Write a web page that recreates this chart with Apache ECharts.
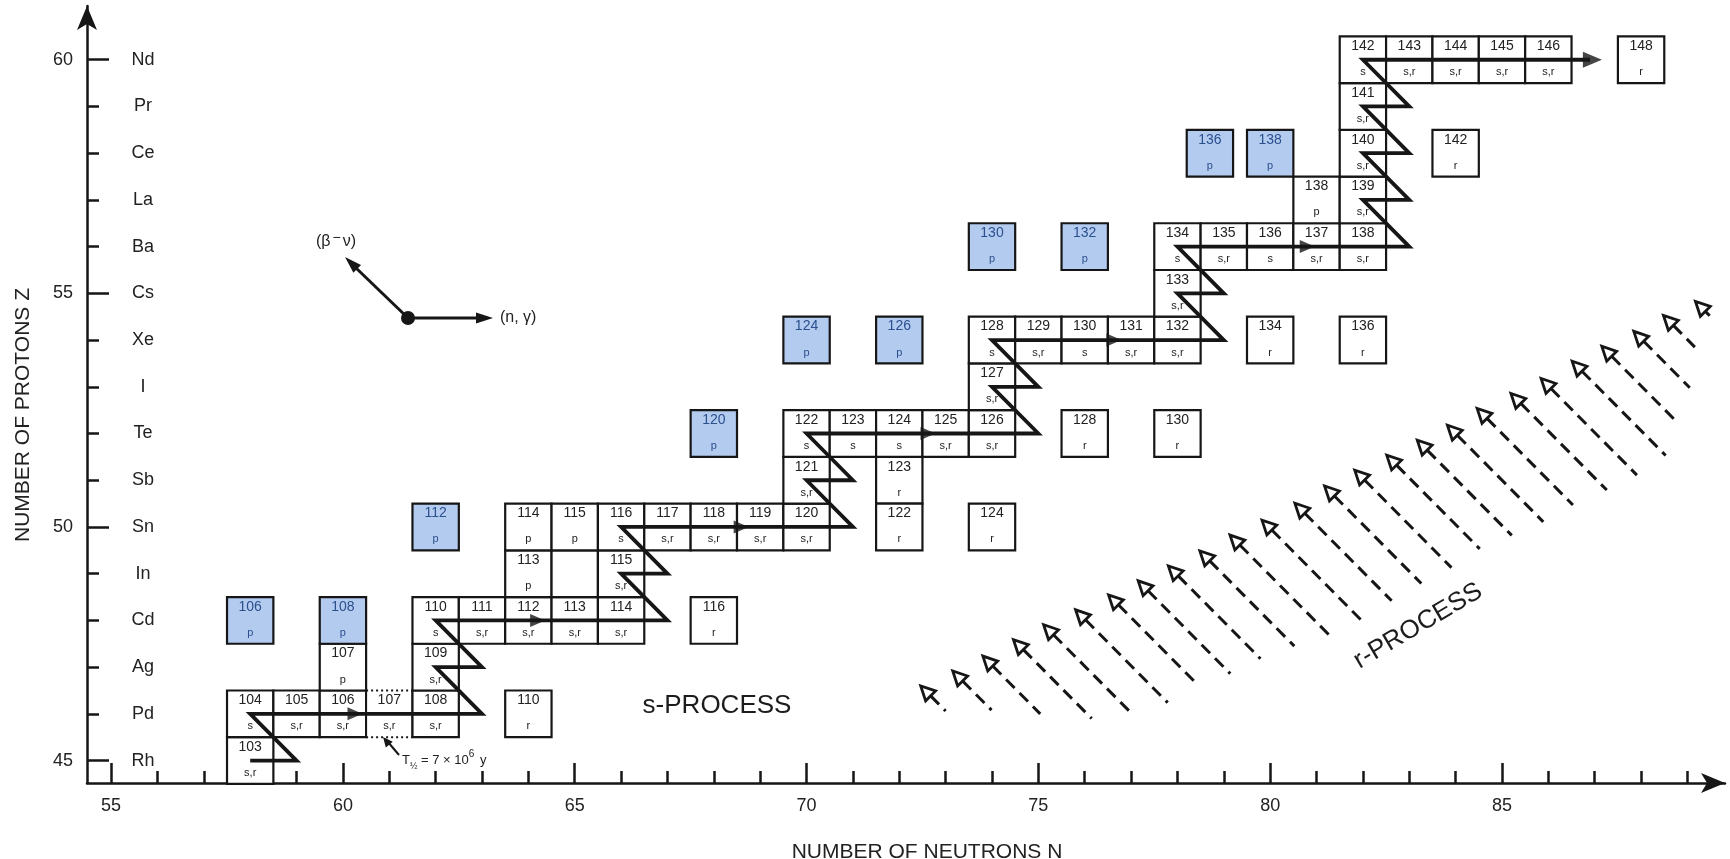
<!DOCTYPE html>
<html>
<head>
<meta charset="utf-8">
<title>s-process path through Rh - Nd</title>
<script src="https://cdn.jsdelivr.net/npm/echarts@6/dist/echarts.min.js"></script>
<style>
  html, body { margin: 0; padding: 0; background: #fff; }
  #chart { width: 1730px; height: 859px; }
</style>
</head>
<body>
<div id="chart"></div>
<script>
// axis labels
const elementZ = [45, 46, 47, 48, 49, 50, 51, 52, 53, 54, 55, 56, 57, 58, 59, 60];
const elements = ['Rh', 'Pd', 'Ag', 'Cd', 'In', 'Sn', 'Sb', 'Te', 'I', 'Xe', 'Cs', 'Ba', 'La', 'Ce', 'Pr', 'Nd'];
const zLabels = [45, 50, 55, 60];
const nLabels = [55, 60, 65, 70, 75, 80, 85];
const nTicks = [55, 56, 57, 58, 59, 60, 61, 62, 63, 64, 65, 66, 67, 68, 69, 70, 71, 72,
  73, 74, 75, 76, 77, 78, 79, 80, 81, 82, 83, 84, 85, 86, 87, 88, 89];

// nuclides: [N, Z, mass number, origin]
const chainCells = [
  [58, 45, '103', 's,r'],
  [58, 46, '104', 's'], [59, 46, '105', 's,r'], [60, 46, '106', 's,r'], [61, 46, '107', 's,r'], [62, 46, '108', 's,r'],
  [60, 47, '107', 'p'], [62, 47, '109', 's,r'],
  [62, 48, '110', 's'], [63, 48, '111', 's,r'], [64, 48, '112', 's,r'], [65, 48, '113', 's,r'], [66, 48, '114', 's,r'],
  [64, 49, '113', 'p'], [65, 49, '', ''], [66, 49, '115', 's,r'],
  [64, 50, '114', 'p'], [65, 50, '115', 'p'], [66, 50, '116', 's'], [67, 50, '117', 's,r'], [68, 50, '118', 's,r'],
  [69, 50, '119', 's,r'], [70, 50, '120', 's,r'],
  [70, 51, '121', 's,r'], [72, 51, '123', 'r'], [72, 50, '122', 'r'],
  [70, 52, '122', 's'], [71, 52, '123', 's'], [72, 52, '124', 's'], [73, 52, '125', 's,r'], [74, 52, '126', 's,r'],
  [74, 53, '127', 's,r'],
  [74, 54, '128', 's'], [75, 54, '129', 's,r'], [76, 54, '130', 's'], [77, 54, '131', 's,r'], [78, 54, '132', 's,r'],
  [78, 55, '133', 's,r'],
  [78, 56, '134', 's'], [79, 56, '135', 's,r'], [80, 56, '136', 's'], [81, 56, '137', 's,r'], [82, 56, '138', 's,r'],
  [81, 57, '138', 'p'], [82, 57, '139', 's,r'],
  [82, 58, '140', 's,r'],
  [82, 59, '141', 's,r'],
  [82, 60, '142', 's'], [83, 60, '143', 's,r'], [84, 60, '144', 's,r'], [85, 60, '145', 's,r'], [86, 60, '146', 's,r']
];
const pOnlyCells = [
  [58, 48, '106', 'p'], [60, 48, '108', 'p'], [62, 50, '112', 'p'], [68, 52, '120', 'p'], [70, 54, '124', 'p'],
  [72, 54, '126', 'p'], [74, 56, '130', 'p'], [76, 56, '132', 'p'], [78.7, 58, '136', 'p'], [80, 58, '138', 'p']
];
const rOnlyCells = [
  [64, 46, '110', 'r'], [68, 48, '116', 'r'], [74, 50, '124', 'r'], [76, 52, '128', 'r'], [78, 52, '130', 'r'],
  [80, 54, '134', 'r'], [82, 54, '136', 'r'], [84, 58, '142', 'r'], [88, 60, '148', 'r']
];
// 107Pd, T1/2 = 7e6 y: drawn with dotted top and bottom
const longLived = [[61, 46]];

// s-process path (n,gamma) steps and beta decays
const pathVertices = [
  [58, 45], [59, 45], [58, 46], [63, 46], [62, 47], [63, 47], [62, 48], [67, 48], [66, 49], [67, 49],
  [66, 50], [71, 50], [70, 51], [71, 51], [70, 52], [75, 52], [74, 53], [75, 53], [74, 54], [79, 54],
  [78, 55], [79, 55], [78, 56], [83, 56], [82, 57], [83, 57], [82, 58], [83, 58], [82, 59], [83, 59],
  [82, 60], [86.9, 60]
];
const pathArrowN = [60.26, 64.2, 68.59, 72.62, 76.63, 80.8];
const pathArrowZ = [46, 48, 50, 52, 54, 56];
const pathEnd = [86.95, 60];

// r-process decay arrows: head position and dashed tail length (in N)
const rArrowN = [72.6, 73.29, 73.94, 74.6, 75.25, 75.94, 76.65, 77.29, 77.94, 78.62, 79.27, 79.96, 80.67,
  81.31, 81.96, 82.65, 83.31, 83.96, 84.6, 85.33, 85.98, 86.65, 87.29, 87.98, 88.62, 89.31];
const rArrowZ = [46.46, 46.78, 47.1, 47.45, 47.77, 48.09, 48.41, 48.71, 49.03, 49.35, 49.69, 50.01, 50.37,
  50.74, 51.08, 51.4, 51.72, 52.04, 52.4, 52.72, 53.04, 53.41, 53.73, 54.05, 54.39, 54.69];
const rArrowLen = [0.4, 0.7, 1.1, 1.55, 1.8, 1.85, 1.8, 1.85, 1.85, 1.9, 2.0, 2.0, 1.95,
  1.95, 1.95, 1.87, 1.9, 1.93, 1.93, 1.93, 1.93, 1.88, 1.46, 1.07, 0.54, 0.17];

const INK = '#161616';
const FONT = '"Liberation Sans", Arial, Helvetica, sans-serif';

function isLongLived(cell) {
  return longLived.some(d => d[0] === cell[0] && d[1] === cell[1]);
}

function edge(x1, y1, x2, y2, dash) {
  return {
    type: 'line',
    shape: { x1, y1, x2, y2 },
    style: { stroke: INK, lineWidth: 2, lineDash: dash || null }
  };
}

function cellRenderer(cells, fill, textColor) {
  return function (params, api) {
    const cell = cells[params.dataIndex];
    const c = api.coord([cell[0], cell[1]]);
    const s = api.size([1, 1]);
    const x0 = c[0] - s[0] / 2, y0 = c[1] - s[1] / 2;
    const children = [];
    if (isLongLived(cell)) {
      children.push({ type: 'rect', shape: { x: x0, y: y0, width: s[0], height: s[1] }, style: { fill } });
      children.push(edge(x0, y0, x0, y0 + s[1]));
      children.push(edge(x0 + s[0], y0, x0 + s[0], y0 + s[1]));
      children.push(edge(x0, y0, x0 + s[0], y0, [2, 3]));
      children.push(edge(x0, y0 + s[1], x0 + s[0], y0 + s[1], [2, 3]));
    } else {
      children.push({
        type: 'rect',
        shape: { x: x0, y: y0, width: s[0], height: s[1] },
        style: { fill, stroke: INK, lineWidth: 2.2 }
      });
    }
    children.push({
      type: 'text',
      style: {
        text: cell[2], x: c[0], y: c[1] - 13.5,
        align: 'center', verticalAlign: 'middle', textAlign: 'center', textVerticalAlign: 'middle',
        fontSize: 14, fontFamily: FONT, fill: textColor
      }
    });
    children.push({
      type: 'text',
      style: {
        text: cell[3], x: c[0], y: c[1] + 12.5,
        align: 'center', verticalAlign: 'middle', textAlign: 'center', textVerticalAlign: 'middle',
        fontSize: 11, fontFamily: FONT, fill: textColor
      }
    });
    return { type: 'group', children };
  };
}

function renderRArrow(params, api) {
  const i = params.dataIndex;
  const n = rArrowN[i], z = rArrowZ[i], len = rArrowLen[i];
  const p = api.coord([n, z]);
  const u = api.coord([n + 1, z - 1]);
  const q = api.coord([n + len, z - len]);
  let dx = u[0] - p[0], dy = u[1] - p[1];
  const d = Math.sqrt(dx * dx + dy * dy);
  dx /= d; dy /= d;
  const tip = [p[0] - dx * 9, p[1] - dy * 9];
  const base = [p[0] + dx * 5, p[1] + dy * 5];
  const px = -dy * 7, py = dx * 7;
  return {
    type: 'group',
    children: [
      {
        type: 'polyline',
        shape: { points: [base, q] },
        style: { stroke: INK, lineWidth: 3, lineDash: [12, 7] }
      },
      {
        type: 'polygon',
        shape: { points: [tip, [base[0] + px, base[1] + py], [base[0] - px, base[1] - py]] },
        style: { fill: '#fff', stroke: INK, lineWidth: 2.8, lineJoin: 'miter' }
      }
    ]
  };
}

function arrowHead(tip, dir, len, half) {
  const ux = dir[0], uy = dir[1];
  const bx = tip[0] - ux * len, by = tip[1] - uy * len;
  return {
    type: 'polygon',
    shape: { points: [tip, [bx - uy * half, by + ux * half], [bx + uy * half, by - ux * half]] },
    style: { fill: INK }
  };
}

const chart = echarts.init(document.getElementById('chart'));

const xRange = { min: 54.48, max: 89.81 };
const yRange = { min: 44.52, max: 61.15 };
const axisLineStyle = { color: INK, width: 2.5 };

const option = {
  animation: false,
  backgroundColor: '#fff',
  grid: { left: 87, top: 6, width: 1638, height: 777, containLabel: false },
  xAxis: [
    {
      type: 'value', ...xRange,
      axisLine: { show: true, onZero: false, lineStyle: axisLineStyle, symbol: ['none', 'arrow'], symbolSize: [15, 24] },
      axisTick: { show: true, inside: true, length: 12, customValues: nTicks, lineStyle: axisLineStyle },
      axisLabel: { show: false },
      splitLine: { show: false }
    },
    {
      type: 'value', position: 'bottom', ...xRange,
      axisLine: { show: false, onZero: false },
      axisTick: { show: true, inside: true, length: 20, customValues: nLabels, lineStyle: axisLineStyle },
      axisLabel: { customValues: nLabels, margin: 14, fontSize: 18, fontFamily: FONT, color: '#222' },
      splitLine: { show: false }
    }
  ],
  yAxis: [
    {
      type: 'value', position: 'left', ...yRange,
      axisLine: { show: true, onZero: false, lineStyle: axisLineStyle, symbol: ['none', 'arrow'], symbolSize: [15, 24] },
      axisTick: { show: true, inside: true, length: 12, customValues: elementZ, lineStyle: axisLineStyle },
      axisLabel: { show: false },
      splitLine: { show: false }
    },
    {
      type: 'value', position: 'left', ...yRange,
      axisLine: { show: false, onZero: false },
      axisTick: { show: true, inside: true, length: 22, customValues: zLabels, lineStyle: axisLineStyle },
      axisLabel: { customValues: zLabels, margin: 14, fontSize: 18, fontFamily: FONT, color: '#222' },
      splitLine: { show: false }
    },
    {
      type: 'value', position: 'left', ...yRange,
      axisLine: { show: false, onZero: false },
      axisTick: { show: false },
      axisLabel: {
        customValues: elementZ, inside: true, margin: 56, align: 'center',
        fontSize: 18, fontFamily: FONT, color: '#222',
        formatter: v => elements[Math.round(v) - 45]
      },
      splitLine: { show: false }
    }
  ],
  series: [
    {
      name: 'chain', type: 'custom', z: 2,
      renderItem: cellRenderer(chainCells, '#fff', '#222'),
      data: chainCells.map(c => [c[0], c[1]])
    },
    {
      name: 'p-only', type: 'custom', z: 2,
      renderItem: cellRenderer(pOnlyCells, '#b3cbef', '#2c4f8e'),
      data: pOnlyCells.map(c => [c[0], c[1]])
    },
    {
      name: 'r-only', type: 'custom', z: 2,
      renderItem: cellRenderer(rOnlyCells, '#fff', '#222'),
      data: rOnlyCells.map(c => [c[0], c[1]])
    },
    {
      name: 's-path', type: 'line', z: 5,
      data: pathVertices,
      showSymbol: false, symbol: 'none',
      lineStyle: { color: INK, width: 3.8, join: 'miter' },
      silent: true
    },
    {
      name: 's-path arrows', type: 'scatter', z: 6,
      data: pathArrowN.map((n, i) => [n, pathArrowZ[i]]),
      symbol: 'path://M0,0L10,5L0,10Z', symbolSize: [15, 13],
      itemStyle: { color: INK }, silent: true
    },
    {
      name: 's-path end', type: 'scatter', z: 6,
      data: [pathEnd],
      symbol: 'path://M0,0L10,5L0,10Z', symbolSize: [19, 16],
      itemStyle: { color: INK }, silent: true
    },
    {
      name: 'r-process', type: 'custom', z: 4,
      renderItem: renderRArrow,
      data: rArrowN.map((n, i) => [n, rArrowZ[i]])
    }
  ],
  graphic: [
    {
      type: 'text', x: 23, y: 415, rotation: Math.PI / 2,
      style: { text: 'NUMBER OF PROTONS Z', align: 'center', verticalAlign: 'middle', textAlign: 'center', textVerticalAlign: 'middle',
        fontSize: 21, fontFamily: FONT, fill: '#222' }
    },
    {
      type: 'text', x: 927, y: 852,
      style: { text: 'NUMBER OF NEUTRONS N', align: 'center', verticalAlign: 'middle', textAlign: 'center', textVerticalAlign: 'middle',
        fontSize: 21, fontFamily: FONT, fill: '#222' }
    },
    {
      type: 'text', x: 717, y: 706,
      style: { text: 's-PROCESS', align: 'center', verticalAlign: 'middle', textAlign: 'center', textVerticalAlign: 'middle',
        fontSize: 26, fontFamily: FONT, fill: '#1c1c1c' }
    },
    {
      type: 'text', x: 1418, y: 626, rotation: 0.534,
      style: { text: 'r-PROCESS', align: 'center', verticalAlign: 'middle', textAlign: 'center', textVerticalAlign: 'middle',
        fontSize: 26, fontFamily: FONT, fill: '#1c1c1c' }
    },
    // reaction legend
    { type: 'circle', shape: { cx: 408, cy: 318, r: 7 }, style: { fill: INK } },
    { type: 'line', shape: { x1: 408, y1: 318, x2: 478, y2: 318 }, style: { stroke: INK, lineWidth: 3 } },
    arrowHead([493, 318], [1, 0], 17, 5.5),
    { type: 'line', shape: { x1: 408, y1: 318, x2: 356, y2: 268 }, style: { stroke: INK, lineWidth: 3 } },
    arrowHead([345, 257], [-0.718, -0.696], 17, 5.5),
    {
      type: 'text', x: 500, y: 318,
      style: { text: '(n, γ)', align: 'left', verticalAlign: 'middle', textAlign: 'left', textVerticalAlign: 'middle',
        fontSize: 16, fontFamily: FONT, fill: '#222' }
    },
    {
      type: 'text', x: 336, y: 242,
      style: {
        text: '{a|(β}{s|−}{a|ν)}', align: 'center', verticalAlign: 'middle', textAlign: 'center', textVerticalAlign: 'middle',
        rich: {
          a: { fontSize: 16, fontFamily: FONT, fill: '#222', lineHeight: 22 },
          s: { fontSize: 14, fontFamily: FONT, fill: '#222', verticalAlign: 'top', padding: [0, 2, 6, 2] }
        }
      }
    },
    // 107Pd half-life note
    { type: 'line', shape: { x1: 399, y1: 755, x2: 388, y2: 742 }, style: { stroke: INK, lineWidth: 2 } },
    arrowHead([383, 737], [-0.63, -0.77], 10, 4.5),
    {
      type: 'text', x: 402, y: 760,
      style: {
        text: '{a|T}{b|½}{a| = 7 × 10}{c|6}{a| y}', align: 'left', verticalAlign: 'middle', textAlign: 'left', textVerticalAlign: 'middle',
        rich: {
          a: { fontSize: 13, fontFamily: FONT, fill: '#222', lineHeight: 22 },
          b: { fontSize: 9, fontFamily: FONT, fill: '#222', verticalAlign: 'bottom', padding: [6, 0, 0, 0] },
          c: { fontSize: 10, fontFamily: FONT, fill: '#222', verticalAlign: 'top', padding: [0, 2, 8, 0] }
        }
      }
    }
  ]
};

chart.setOption(option);
window.addEventListener('resize', () => chart.resize());
</script>
</body>
</html>
